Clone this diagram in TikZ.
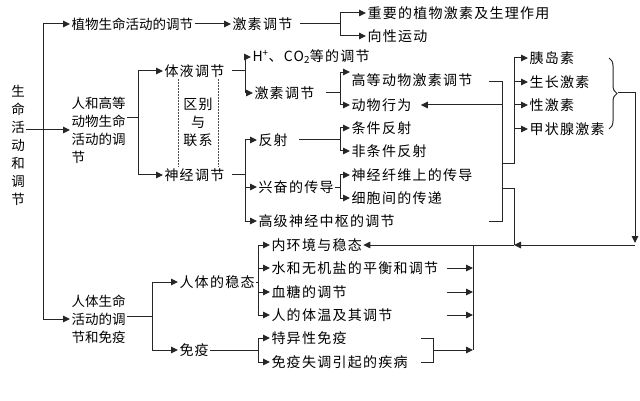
\documentclass[tikz,border=0pt]{standalone}
\usepackage{fontspec}
\setmainfont[LetterSpace=9]{Noto Sans CJK SC}
\newfontfamily\tightfont{Noto Sans CJK SC}
\usepackage{tikz}
\usetikzlibrary{arrows.meta}
\usetikzlibrary{decorations.pathreplacing}

\tikzset{
  lbl/.style={anchor=west, inner sep=1pt, text=black, font=\fontsize{14}{18}\selectfont},
  tight/.style={font=\tightfont\fontsize{13.5}{18}\selectfont},
  arr/.style={-{Triangle[length=7pt,width=6.5pt]}},
  sep/.style={densely dotted, line width=0.5pt, black!70},
}

\begin{document}
\begin{tikzpicture}[x=1pt,y=-1pt,line width=1pt,black!85]
\useasboundingbox (0,0) rectangle (640,401);

% root and trunk
\node[lbl,tight,anchor=center,align=center] (root) at (18,145) {生\\命\\活\\动\\和\\调\\节};
\coordinate (trunk) at (43,24);
\node[lbl,tight] (plant) at (70,24) {植物生命活动的调节};
\node[lbl,tight,align=left] (animal) at (70,130) {人和高等\\动物生命\\活动的调\\节};
\node[lbl,tight,align=left] (human) at (70,319) {人体生命\\活动的调\\节和免疫};
\draw (trunk) -- (trunk |- human);
\draw[arr] (trunk) -- (plant.west);
\draw[arr] (trunk |- human) -- (human.west);
\draw[arr] (root.east |- animal.west) -- (animal.west);

% plants
\node[lbl] (hormP) at (231,24) {激素调节};
\node[lbl] (plantH) at (366,13) {重要的植物激素及生理作用};
\node[lbl] (tropism) at (366,36) {向性运动};
\coordinate (bP) at (340,24);
\draw[arr] (plant.east) -- (hormP.west);
\draw[shorten <=6pt] (hormP.east) -- (bP);
\draw (bP |- plantH) -- (bP |- tropism);
\draw[arr] (bP |- plantH) -- (plantH.west);
\draw[arr] (bP |- tropism) -- (tropism.west);

% animals
\coordinate (bA) at (138,118);
\node[lbl] (humoral) at (163,71) {体液调节};
\node[lbl] (nervous) at (163,175) {神经调节};
\draw (animal.east |- bA) -- (bA);
\draw (bA |- humoral) -- (bA |- nervous);
\draw[arr] (bA |- humoral) -- (humoral.west);
\draw[arr] (bA |- nervous) -- (nervous.west);
\node[lbl,anchor=center,align=center] (diff) at (198,122) {区别\\与\\联系};
\draw[sep] ([xshift=15pt]humoral.south west) -- ([xshift=15pt]humoral.south west |- nervous.north);
\draw[sep] ([xshift=55pt]humoral.south west) -- ([xshift=55pt]humoral.south west |- nervous.north);

% humoral
\coordinate (bH) at (245,71);
\node[lbl] (ph) at (251,57) {H\textsuperscript{+}、CO\textsubscript{2}等的调节};
\node[lbl] (hormA) at (253,93) {激素调节};
\draw[shorten <=6pt] (humoral.east) -- (bH);
\draw (bH |- ph) -- (bH |- hormA);
\draw[arr] (bH |- ph) -- (ph.west);
\draw[arr] (bH |- hormA) -- (hormA.west);

\coordinate (bHA) at (340,93);
\node[lbl] (higherH) at (350,80) {高等动物激素调节};
\node[lbl] (behavior) at (350,105) {动物行为};
\draw[shorten <=10pt] (hormA.east) -- (bHA);
\draw (bHA |- higherH.north west) -- (bHA |- behavior);
\draw[arr] (bHA |- higherH.north west) -- (higherH.north west);
\draw[arr] (bHA |- behavior) -- (behavior.west);

% nervous
\coordinate (bN) at (245,175);
\node[lbl] (reflex) at (257,140) {反射};
\node[lbl] (excite) at (257,187) {兴奋的传导};
\node[lbl] (center) at (257,221) {高级神经中枢的调节};
\draw[shorten <=6pt] (nervous.east) -- (bN);
\draw (bN |- reflex) -- (bN |- center);
\draw[arr] (bN |- reflex) -- (reflex.west);
\draw[arr] (bN |- excite) -- (excite.west);
\draw[arr] (bN |- center) -- (center.west);

\coordinate (bR) at (340,140);
\node[lbl] (cond) at (350,128) {条件反射};
\node[lbl] (uncond) at (350,151) {非条件反射};
\draw[shorten <=10pt] (reflex.east) -- (bR);
\draw (bR |- cond) -- (bR |- uncond);
\draw[arr] (bR |- cond) -- (cond.west);
\draw[arr] (bR |- uncond) -- (uncond.west);

\coordinate (bE) at (340,187);
\node[lbl] (fiber) at (350,175) {神经纤维上的传导};
\node[lbl] (synapse) at (350,198) {细胞间的传递};
\draw (excite.east) -- (bE);
\draw (bE |- fiber) -- (bE |- synapse);
\draw[arr] (bE |- fiber) -- (fiber.west);
\draw[arr] (bE |- synapse) -- (synapse.west);

% hormones
\coordinate (hEnd) at (489,82);
\coordinate (cEnd) at (489,221);
\coordinate (vL) at (502,82);
\draw (hEnd) -- (vL) -- (vL |- cEnd) -- (cEnd);
\draw[arr, shorten >=8pt] (vL |- behavior) -- (behavior.east);
\coordinate (hB) at (514,164);
\node[lbl] (insulin) at (528,58) {胰岛素};
\node[lbl] (growth) at (528,82) {生长激素};
\node[lbl] (sexH) at (528,105) {性激素};
\node[lbl] (thyroid) at (528,129) {甲状腺激素};
\draw (vL |- hB) -- (hB) -- (hB |- insulin);
\draw[arr] (hB |- insulin) -- (insulin.west);
\draw[arr] (hB |- growth) -- (growth.west);
\draw[arr] (hB |- sexH) -- (sexH.west);
\draw[arr] (hB |- thyroid) -- (thyroid.west);
\draw[decorate, decoration={brace, amplitude=8pt}] (609,58) -- (609,129);
\coordinate (brTip) at (618,93);
\coordinate (rC) at (635,245);
\coordinate (mJ) at (514,245);
\coordinate (hD) at (514,188);
\draw[arr] (brTip) -| (635,243);
\draw (vL |- hD) -- (hD) -- (mJ);
\draw[arr] (rC) -- (mJ);

% human body
\coordinate (bHu) at (152,316);
\node[lbl] (homeo) at (178,282) {人体的稳态};
\node[lbl] (immune) at (178,350) {免疫};
\draw (human.east |- bHu) -- (bHu);
\draw (bHu |- homeo) -- (bHu |- immune);
\draw[arr] (bHu |- homeo) -- (homeo.west);
\draw[arr] (bHu |- immune) -- (immune.west);

\coordinate (bS) at (258,282);
\node[lbl] (steady) at (270,245) {内环境与稳态};
\node[lbl] (water) at (270,268) {水和无机盐的平衡和调节};
\node[lbl] (sugar) at (270,292) {血糖的调节};
\node[lbl] (temp) at (270,315) {人的体温及其调节};
\draw (homeo.east) -- (bS);
\draw (bS |- steady) -- (bS |- temp);
\draw[arr] (bS |- steady) -- (steady.west);
\draw[arr] (bS |- water) -- (water.west);
\draw[arr] (bS |- sugar) -- (sugar.west);
\draw[arr] (bS |- temp) -- (temp.west);
\draw[arr] (mJ) -- (steady.east);

\coordinate (bI) at (258,350);
\node[lbl] (specific) at (270,338) {特异性免疫};
\node[lbl] (disorder) at (270,362) {免疫失调引起的疾病};
\draw (immune.east) -- (bI);
\draw (bI |- specific) -- (bI |- disorder);
\draw[arr] (bI |- specific) -- (specific.west);
\draw[arr] (bI |- disorder) -- (disorder.west);

% back to homeostasis
\coordinate (cR) at (447,0);
\coordinate (iL) at (421,0);
\coordinate (bJ) at (433,350);
\coordinate (cV) at (473,350);
\draw (cV) -- (cV |- steady);
\draw[arr] (water -| cR) -- (water -| cV);
\draw[arr] (sugar -| cR) -- (sugar -| cV);
\draw[arr] (temp -| cR) -- (temp -| cV);
\draw (specific -| iL) -| (bJ);
\draw (disorder -| iL) -| (bJ);
\draw[arr] (bJ) -- (cV);

\end{tikzpicture}
\end{document}
